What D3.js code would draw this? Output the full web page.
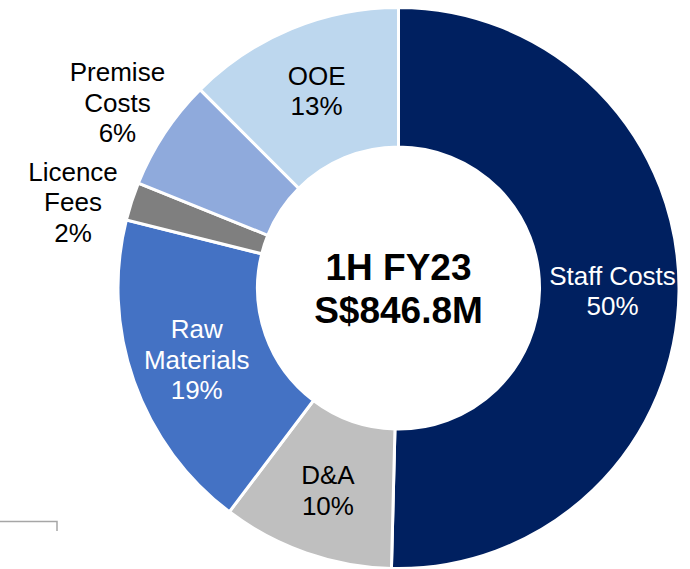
<!DOCTYPE html>
<html lang="en">
<head>
<meta charset="utf-8">
<script src="https://cdn.jsdelivr.net/npm/d3@7"></script>
<style>
    body { margin: 0; background: #fff; }
    svg text { font-family: "Liberation Sans", Arial, sans-serif; }
</style>
</head>
<body>
<script>
// cost breakdown, clockwise from 12 o'clock
const categories = ["Staff Costs", "D&A", "Raw Materials", "Licence Fees", "Premise Costs", "OOE"];
const shares = [50.4, 9.9, 18.6, 2.2, 6.4, 12.5];
const shareLabels = ["50%", "10%", "19%", "2%", "6%", "13%"];
const labelLines = [["Staff Costs"], ["D&A"], ["Raw", "Materials"], ["Licence", "Fees"], ["Premise", "Costs"], ["OOE"]];
const colors = ["#002060", "#BFBFBF", "#4472C4", "#7F7F7F", "#8FAADC", "#BDD7EE"];
const textColors = ["#fff", "#000", "#fff", "#000", "#000", "#000"];
const outside = [false, false, false, true, true, false];
const centerTitle = ["1H FY23", "S$846.8M"];

let w = 690, h = 569;
let cx = 398.5, cy = 288;
let rOuter = 280.5, rInner = 141;

let svg = d3.select("body").append("svg")
    .attr("width", w)
    .attr("height", h);

let data = categories.map((c, i) => ({
    name: c, value: shares[i], pct: shareLabels[i], lines: labelLines[i],
    color: colors[i], text: textColors[i], outside: outside[i]
}));

let pie = d3.pie().sort(null).value(d => d.value);
let arcs = pie(data);

let arc = d3.arc().innerRadius(rInner).outerRadius(rOuter);
let inLabel = d3.arc().innerRadius(214).outerRadius(214);
let outLabel = d3.arc().innerRadius(337).outerRadius(337);

let g = svg.append("g").attr("transform", "translate(" + cx + "," + cy + ")");

g.selectAll("path")
    .data(arcs)
    .enter()
    .append("path")
    .attr("d", arc)
    .attr("fill", d => d.data.color)
    .attr("stroke", "#fff")
    .attr("stroke-width", 3);

// slice labels
let lineH = 30.5;
let labels = g.selectAll("g.lbl")
    .data(arcs)
    .enter()
    .append("g")
    .attr("class", "lbl")
    .attr("transform", d => {
        let p = d.data.outside ? outLabel.centroid(d) : inLabel.centroid(d);
        // licence label sits a little lower/left of its slice mid-point
        if (d.data.name === "Licence Fees") { p[0] -= 5; p[1] += 18; }
        return "translate(" + p[0] + "," + p[1] + ")";
    });

labels.each(function(d) {
    let lines = d.data.lines.concat([d.data.pct]);
    let n = lines.length;
    d3.select(this).selectAll("text")
        .data(lines)
        .enter()
        .append("text")
        .attr("text-anchor", "middle")
        .attr("x", 0)
        .attr("y", (t, i) => (i - (n - 1) / 2) * lineH + 9.5)
        .attr("font-size", "26px")
        .attr("fill", d.data.text)
        .text(t => t);
});

// centre title
g.selectAll("text.title")
    .data(centerTitle)
    .enter()
    .append("text")
    .attr("class", "title")
    .attr("text-anchor", "middle")
    .attr("x", 0)
    .attr("y", (t, i) => -8 + i * 43)
    .attr("font-size", "37px")
    .attr("font-weight", "bold")
    .attr("fill", "#000")
    .text(t => t);

// stray border fragment at bottom-left
svg.append("path")
    .attr("d", "M0,521.5 H57 V531")
    .attr("fill", "none")
    .attr("stroke", "#A6A6A6")
    .attr("stroke-width", 1.5);
</script>
</body>
</html>
